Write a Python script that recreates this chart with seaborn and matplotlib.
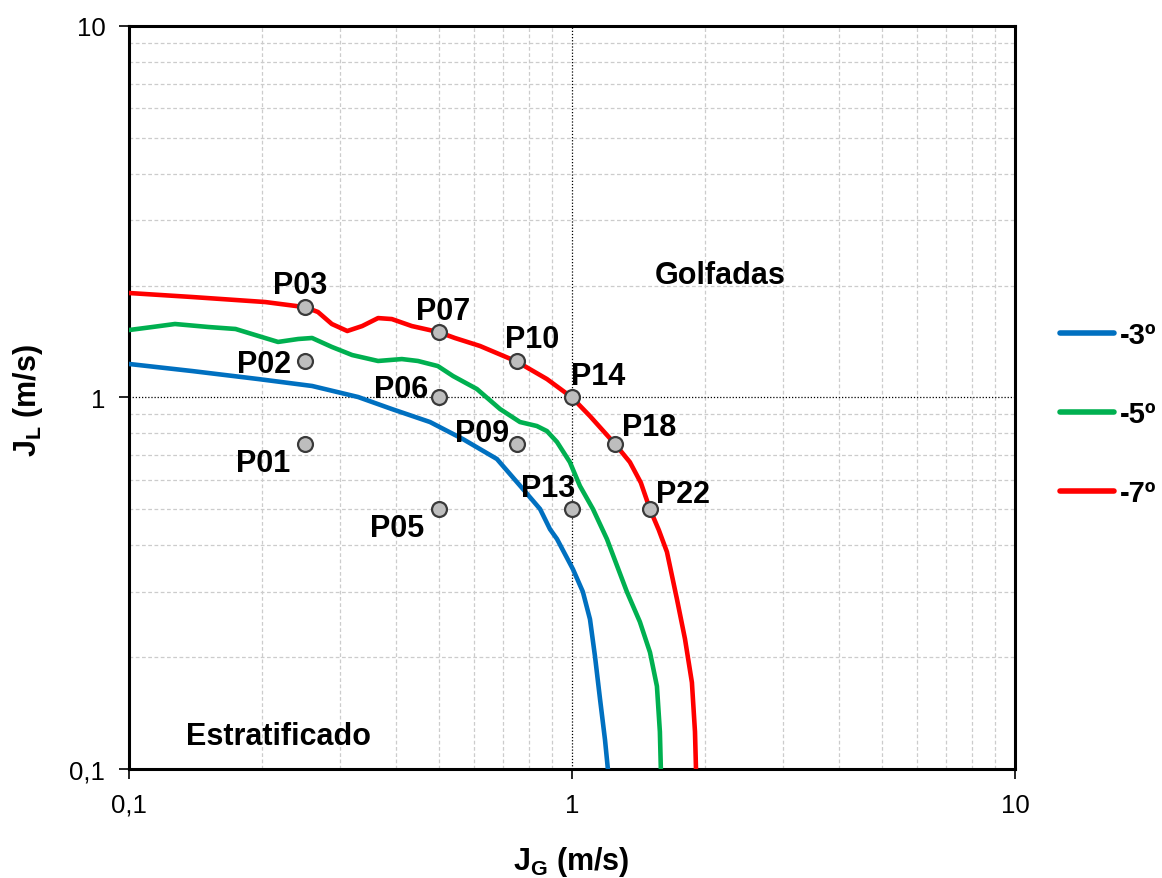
import matplotlib
matplotlib.use("Agg")
import matplotlib.pyplot as plt
from matplotlib.ticker import FixedLocator, FixedFormatter, LogLocator
import numpy as np
import pandas as pd
import seaborn as sns

# Transition boundaries (J_G, J_L) for each inclination
jg_3 = [0.100, 0.139, 0.196, 0.259, 0.329, 0.392, 0.478, 0.567, 0.677, 0.775, 0.847,
        0.892, 0.925, 1.005, 1.058, 1.098, 1.127, 1.157, 1.187, 1.205]
jl_3 = [1.231, 1.178, 1.121, 1.074, 1.003, 0.931, 0.859, 0.773, 0.683, 0.567, 0.501,
        0.442, 0.416, 0.345, 0.300, 0.253, 0.201, 0.154, 0.120, 0.100]

jg_5 = [0.100, 0.113, 0.127, 0.151, 0.174, 0.196, 0.217, 0.241, 0.259, 0.287, 0.319,
        0.365, 0.413, 0.449, 0.498, 0.539, 0.610, 0.688, 0.763, 0.833, 0.878, 0.925,
        0.989, 1.042, 1.115, 1.199, 1.330, 1.423, 1.500, 1.555, 1.579, 1.587]
jl_5 = [1.519, 1.548, 1.577, 1.548, 1.529, 1.464, 1.411, 1.437, 1.446, 1.368, 1.301,
        1.254, 1.269, 1.254, 1.215, 1.142, 1.054, 0.931, 0.859, 0.838, 0.812, 0.759,
        0.670, 0.578, 0.501, 0.416, 0.300, 0.249, 0.206, 0.167, 0.126, 0.100]

jg_7 = [0.100, 0.139, 0.203, 0.250, 0.267, 0.287, 0.311, 0.336, 0.365, 0.392, 0.435,
        0.500, 0.544, 0.620, 0.750, 0.878, 1.000, 1.098, 1.250, 1.351, 1.430, 1.500,
        1.570, 1.638, 1.725, 1.799, 1.865, 1.895, 1.905]
jl_7 = [1.911, 1.864, 1.807, 1.750, 1.699, 1.577, 1.510, 1.557, 1.636, 1.626, 1.557,
        1.500, 1.446, 1.376, 1.250, 1.121, 1.000, 0.891, 0.750, 0.670, 0.590, 0.500,
        0.440, 0.384, 0.287, 0.224, 0.171, 0.126, 0.100]

series_names = ["-3º", "-5º", "-7º"]
series_colors = ["#0070C0", "#00B050", "#FF0000"]

# Test points
pt_names = ["P01", "P02", "P03", "P05", "P06", "P07", "P09", "P10", "P13", "P14", "P18", "P22"]
pt_jg = [0.25, 0.25, 0.25, 0.5, 0.5, 0.5, 0.75, 0.75, 1.0, 1.0, 1.25, 1.5]
pt_jl = [0.75, 1.25, 1.75, 0.5, 1.0, 1.5, 0.75, 1.25, 0.5, 1.0, 0.75, 0.5]

tick_vals = [0.1, 1, 10]
tick_text = ["0,1", "1", "10"]

sns.set_style("white")
plt.rcParams["font.family"] = ["Liberation Sans", "DejaVu Sans"]
plt.rcParams["mathtext.fontset"] = "custom"
plt.rcParams["mathtext.rm"] = "Liberation Sans:bold"
plt.rcParams["text.color"] = "black"
plt.rcParams["xtick.color"] = "black"
plt.rcParams["ytick.color"] = "black"
plt.rcParams["axes.labelcolor"] = "black"

frames = []
for name, xs, ys in zip(series_names, [jg_3, jg_5, jg_7], [jl_3, jl_5, jl_7]):
    frames.append(pd.DataFrame({"JG": xs, "JL": ys, "Inclinação": name}))
curves = pd.concat(frames, ignore_index=True)
points = pd.DataFrame({"JG": pt_jg, "JL": pt_jl, "nome": pt_names})

fig = plt.figure(figsize=(11.62, 8.79), dpi=100)
ax = fig.add_axes([0.111, 0.124, 0.7625, 0.8453])
ax.set_xscale("log")
ax.set_yscale("log")
ax.set_xlim(0.1, 10)
ax.set_ylim(0.1, 10)

# Grid: light dashed minor lines, dotted black lines at unity
ax.xaxis.set_minor_locator(LogLocator(base=10, subs=np.arange(2, 10)))
ax.yaxis.set_minor_locator(LogLocator(base=10, subs=np.arange(2, 10)))
ax.grid(which="minor", color="#CCCCCC", linestyle=(0, (3, 2)), linewidth=0.9)
ax.axvline(1, color="black", linestyle=(0, (1, 1.5)), linewidth=0.9, zorder=1)
ax.axhline(1, color="black", linestyle=(0, (1, 1.5)), linewidth=0.9, zorder=1)

sns.lineplot(data=curves, x="JG", y="JL", hue="Inclinação", units="Inclinação",
             estimator=None, sort=False, palette=series_colors, hue_order=series_names,
             linewidth=3.3, ax=ax, legend=True, zorder=3)

sns.scatterplot(data=points, x="JG", y="JL", s=115, color="#BEBEBE",
                edgecolor="#3A3A3A", linewidth=1.6, ax=ax, zorder=4, legend=False)

# Point labels (offsets in points)
label_offsets = {
    "P01": (-30, -13.5), "P02": (-30, -2), "P03": (-3.5, 16), "P05": (-30, -13.5),
    "P06": (-27, 6), "P07": (3, 15.5), "P09": (-25, 8), "P10": (11, 16.5),
    "P13": (-17, 15), "P14": (19, 15.5), "P18": (25, 12), "P22": (24, 11),
}
for n, x, y in zip(pt_names, pt_jg, pt_jl):
    dx, dy = label_offsets[n]
    ax.annotate(n, (x, y), xytext=(dx, dy), textcoords="offset points",
                ha="center", va="center", fontsize=22, fontweight="bold", zorder=5)

ax.text(2.16, 2.14, "Golfadas", ha="center", va="center", fontsize=22, fontweight="bold")
ax.text(0.218, 0.1225, "Estratificado", ha="center", va="center", fontsize=22, fontweight="bold")

for a in (ax.xaxis, ax.yaxis):
    a.set_major_locator(FixedLocator(tick_vals))
    a.set_major_formatter(FixedFormatter(tick_text))
ax.tick_params(which="major", direction="out", length=7, width=1.2, color="black",
               labelcolor="black", labelsize=18.5, pad=10, bottom=True, left=True)
ax.tick_params(which="minor", length=0)

for s in ax.spines.values():
    s.set_color("black")
    s.set_linewidth(2.2)

ax.set_xlabel("")
ax.set_ylabel("")
fig.text(0.492, 0.019, r"J$_\mathrm{G}$ (m/s)", ha="center", va="center", fontsize=22, fontweight="bold")
fig.text(0.024, 0.544, r"J$_\mathrm{L}$ (m/s)", ha="center", va="center", rotation=90,
         fontsize=22, fontweight="bold")

leg = ax.legend(loc="center left", bbox_to_anchor=(0.912, 0.528), bbox_transform=fig.transFigure,
                frameon=False, prop={"weight": "bold", "size": 21}, labelspacing=1.75,
                handlelength=1.85, handletextpad=0.2, borderpad=0, borderaxespad=0, title=None)
for line in leg.get_lines():
    line.set_linewidth(4)
    line.set_solid_capstyle("round")
for t in leg.get_texts():
    t.set_color("black")

fig.savefig("out.png", dpi=100)
